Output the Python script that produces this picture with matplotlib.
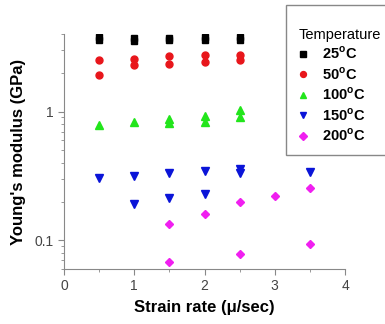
import matplotlib
matplotlib.use("Agg")
import matplotlib.pyplot as plt
from matplotlib.patches import Rectangle
from matplotlib.ticker import FixedLocator, NullFormatter, LogLocator, MultipleLocator

plt.rcParams['font.family'] = ['Liberation Sans', 'DejaVu Sans']

# %% Data

labels = ["25$^{\\mathregular{o}}$C", "50$^{\\mathregular{o}}$C", "100$^{\\mathregular{o}}$C",
          "150$^{\\mathregular{o}}$C", "200$^{\\mathregular{o}}$C"]

x25 = [0.5, 0.5, 1, 1, 1.5, 1.5, 2, 2, 2.5, 2.5]
y25 = [3.6, 3.8, 3.5, 3.7, 3.58, 3.75, 3.6, 3.82, 3.6, 3.82]

x50 = [0.5, 0.5, 1, 1, 1.5, 1.5, 2, 2, 2.5, 2.5]
y50 = [2.52, 1.92, 2.58, 2.29, 2.68, 2.32, 2.75, 2.44, 2.75, 2.5]

x100 = [0.5, 1, 1.5, 1.5, 2, 2, 2.5, 2.5]
y100 = [0.79, 0.835, 0.877, 0.816, 0.93, 0.835, 1.02, 0.90]

x150 = [0.5, 1, 1, 1.5, 1.5, 2, 2, 2.5, 2.5, 3.5]
y150 = [0.303, 0.318, 0.191, 0.332, 0.212, 0.346, 0.229, 0.359, 0.332, 0.342]

x200 = [1.5, 1.5, 2, 2.5, 2.5, 3, 3.5, 3.5]
y200 = [0.135, 0.0686, 0.161, 0.197, 0.0778, 0.222, 0.256, 0.093]

# %% Plot

W, H = 385, 324
fig = plt.figure(figsize=(3.85, 3.24), dpi=100)
ax = fig.add_axes([64/W, 1-269/H, 281/W, 235/H])

ax.plot(x25, y25, "s", color="black", markersize=5, label=labels[0])
ax.plot(x50, y50, "o", color="#e8161b", markersize=5, label=labels[1])
ax.plot(x100, y100, "^", color="#22e51b", markersize=5.5, label=labels[2])
ax.plot(x150, y150, "v", color="#0a14d8", markersize=5.5, label=labels[3])
ax.plot(x200, y200, "D", color="#f01ff0", markersize=4.5, label=labels[4])

ax.set_yscale("log")
ax.set_xlim(0, 4)
ax.set_ylim(0.06, 4)

ax.set_xticks([0, 1, 2, 3, 4])
ax.xaxis.set_minor_locator(MultipleLocator(0.5))
ax.yaxis.set_major_locator(FixedLocator([0.1, 1]))
ax.set_yticklabels(["0.1", "1"])
ax.yaxis.set_minor_locator(LogLocator(base=10, subs=range(2, 10)))
ax.yaxis.set_minor_formatter(NullFormatter())

for s in ["top", "right"]:
    ax.spines[s].set_visible(False)
for s in ["left", "bottom"]:
    ax.spines[s].set_color("#888888")
ax.tick_params(which="major", length=4, color="#888888", labelsize=10, labelcolor="#444444")
ax.tick_params(which="minor", length=2, color="#888888")

ax.set_xlabel("Strain rate (\u03bc/sec)", fontsize=12, fontweight="bold", labelpad=5)
ax.set_ylabel("Young's modulus (GPa)", fontsize=12, fontweight="bold", labelpad=6)

# legend box, runs off the right edge like the original
fig.patches.append(Rectangle((286/W, 1-155/H), 110/W, 150/H, transform=fig.transFigure,
                             facecolor="white", edgecolor="#888888", linewidth=1.0, zorder=3))

leg = fig.legend(loc="upper left", bbox_to_anchor=(299/W, 1-27.5/H), title="Temperature",
                 prop={"weight": "bold", "size": 10.5}, title_fontsize=10.5,
                 frameon=False, borderaxespad=0, borderpad=0,
                 handletextpad=1.03, handlelength=0.55,
                 labelspacing=0.26, markerscale=0.85)
leg._legend_box.align = "left"
leg.set_zorder(4)

fig.savefig("out.png", dpi=100)
